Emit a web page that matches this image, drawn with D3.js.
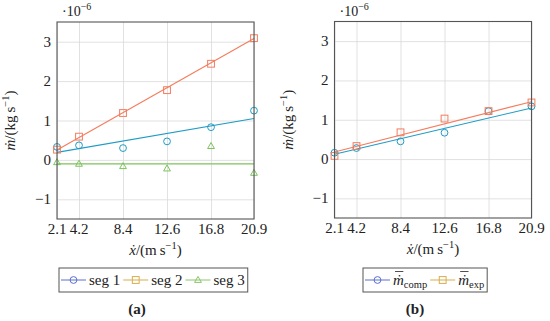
<!DOCTYPE html>
<html>

<head>
  <meta charset="UTF-8">
  <title>mass flow vs velocity</title>
  <script src="https://d3js.org/d3.v7.min.js"></script>
  <style>
    body {
      margin: 0;
      background: #fff;
    }
  </style>
</head>

<body>
  <svg></svg>

  <script>
    // velocities (m/s) and tick values
    const xTicks = [2.1, 4.2, 8.4, 12.6, 16.8, 20.9];
    const yTicks = [-1, 0, 1, 2, 3];

    // panel (a): measured mass flow per segment, in 1e-6 kg/s
    const seg1 = [0.33, 0.37, 0.30, 0.47, 0.83, 1.25];
    const seg2 = [0.26, 0.59, 1.19, 1.77, 2.44, 3.09];
    const seg3 = [-0.06, -0.10, -0.16, -0.22, 0.35, -0.33];
    // fitted lines, value at 2.1 and at 20.9
    const seg1Fit = [0.19, 1.05];
    const seg2Fit = [0.25, 3.08];
    const seg3Fit = [-0.1, -0.1];

    // panel (b): averaged
    const mComp = [0.16, 0.28, 0.45, 0.67, 1.22, 1.34];
    const mExp = [0.08, 0.33, 0.68, 1.03, 1.22, 1.44];
    const mCompFit = [0.12, 1.30];
    const mExpFit = [0.18, 1.46];

    let width = 550,
      height = 321;

    const fontFam = "Liberation Serif";

    let svg = d3.select("svg")
      .attr("width", width)
      .attr("height", height)
      .attr("font-family", fontFam);

    const blue = "#1e9cc6",
      orange = "#f47c5e",
      green = "#7cc35c";

    function drawMarker(g, shape, x, y, color) {
      if (shape == "circle") {
        g.append("circle").attr("cx", x).attr("cy", y).attr("r", 3.4)
          .attr("fill", "none").attr("stroke", color).attr("stroke-width", 1);
      } else if (shape == "square") {
        g.append("rect").attr("x", x - 3.4).attr("y", y - 3.4)
          .attr("width", 6.8).attr("height", 6.8)
          .attr("fill", "none").attr("stroke", color).attr("stroke-width", 1);
      } else {
        g.append("path")
          .attr("d", `M${x},${y - 3.6}L${x + 3.4},${y + 2.4}L${x - 3.4},${y + 2.4}Z`)
          .attr("fill", "none").attr("stroke", color).attr("stroke-width", 1);
      }
    }

    function txt(sel) {
      return sel.append("text").attr("font-family", fontFam).attr("fill", "#222");
    }

    function drawPanel(opts) {
      let x = d3.scaleLinear().domain([2.1, 20.9]).range([opts.left, opts.right]);
      let y = d3.scaleLinear().domain([-1.5, 3.5]).range([opts.bottom, opts.top]);
      let g = svg.append("g");

      // grid
      g.append("g")
        .attr("transform", `translate(0,${opts.bottom})`)
        .call(d3.axisBottom(x).tickValues(xTicks).tickSize(-(opts.bottom - opts.top)).tickFormat(""))
        .call(a => a.select(".domain").remove())
        .call(a => a.selectAll("line").attr("stroke", "#d9d9d9").attr("stroke-width", 0.8));
      g.append("g")
        .attr("transform", `translate(${opts.left},0)`)
        .call(d3.axisLeft(y).tickValues(yTicks).tickSize(-(opts.right - opts.left)).tickFormat(""))
        .call(a => a.select(".domain").remove())
        .call(a => a.selectAll("line").attr("stroke", "#d9d9d9").attr("stroke-width", 0.8));

      // tick labels
      xTicks.forEach(d => {
        txt(g).attr("x", x(d)).attr("y", opts.bottom + 15)
          .attr("text-anchor", "middle").attr("font-size", 15)
          .text(d.toFixed(1));
      });
      yTicks.forEach(d => {
        txt(g).attr("x", opts.left - 6).attr("y", y(d) + 5)
          .attr("text-anchor", "end").attr("font-size", 15)
          .text(d < 0 ? "\u2212" + Math.abs(d) : d);
      });

      // series
      opts.series.forEach(s => {
        g.append("line")
          .attr("x1", x(2.1)).attr("x2", x(20.9))
          .attr("y1", y(s.fit[0])).attr("y2", y(s.fit[1]))
          .attr("stroke", s.color).attr("stroke-width", 1.1);
        s.values.forEach((v, i) => drawMarker(g, s.shape, x(xTicks[i]), y(v), s.color));
      });

      // frame
      g.append("rect")
        .attr("x", opts.left).attr("y", opts.top)
        .attr("width", opts.right - opts.left).attr("height", opts.bottom - opts.top)
        .attr("fill", "none").attr("stroke", "#555").attr("stroke-width", 1.1);

      // exponent
      let ex = txt(g).attr("x", opts.left + 5).attr("y", 16).attr("font-size", 14);
      ex.append("tspan").text("\u00b710");
      ex.append("tspan").attr("dy", -6).attr("font-size", 10).text("\u22126");

      // y label
      let yl = txt(g)
        .attr("transform", `translate(${opts.left - 42},${(opts.top + opts.bottom) / 2}) rotate(-90)`)
        .attr("text-anchor", "middle").attr("font-size", 15);
      yl.append("tspan").attr("font-style", "italic").text("\u1e41");
      yl.append("tspan").text("/(kg\u2009s");
      yl.append("tspan").attr("dy", -6).attr("font-size", 10.5).text("\u22121");
      yl.append("tspan").attr("dy", 6).text(")");

      // x label
      let xl = txt(g)
        .attr("x", (opts.left + opts.right) / 2).attr("y", opts.bottom + 36)
        .attr("text-anchor", "middle").attr("font-size", 15);
      xl.append("tspan").attr("font-style", "italic").text("\u1e8b");
      xl.append("tspan").text("/(m\u2009s");
      xl.append("tspan").attr("dy", -6).attr("font-size", 10.5).text("\u22121");
      xl.append("tspan").attr("dy", 6).text(")");

      // legend
      let lg = g.append("g");
      let cx = opts.legX + 2;
      let ly = 280;
      opts.series.forEach(s => {
        lg.append("line").attr("x1", cx).attr("x2", cx + 25)
          .attr("y1", ly).attr("y2", ly)
          .attr("stroke", s.legColor).attr("stroke-width", 1);
        drawMarker(lg, s.shape, cx + 12.5, ly, s.legColor);
        cx += 28;
        let t = txt(lg).attr("x", cx).attr("y", ly + 5).attr("font-size", 15);
        if (s.sub) {
          t.append("tspan").attr("font-style", "italic").text("\u1e41");
          let r = t.node().getExtentOfChar(0);
          lg.append("line")
            .attr("x1", r.x + 2).attr("x2", r.x + r.width - 0.5)
            .attr("y1", ly - 8.5).attr("y2", ly - 8.5)
            .attr("stroke", "#222").attr("stroke-width", 0.8);
          t.append("tspan").attr("dy", 3).attr("font-size", 10.5).text(s.sub);
        } else {
          t.text(s.name);
        }
        cx += t.node().getComputedTextLength() + 3;
      });
      lg.insert("rect", ":first-child")
        .attr("x", opts.legX).attr("y", 268)
        .attr("width", cx - opts.legX).attr("height", 24)
        .attr("fill", "#fff").attr("stroke", "#555").attr("stroke-width", 1);

      // panel caption
      txt(g)
        .attr("x", opts.capX).attr("y", 314)
        .attr("text-anchor", "middle").attr("font-size", 15).attr("font-weight", "bold")
        .text(opts.caption);
    }

    drawPanel({
      left: 57, right: 254, top: 22, bottom: 219,
      legX: 59, capX: 137, caption: "(a)",
      series: [
        { name: "seg 1", values: seg1, fit: seg1Fit, color: blue, legColor: "#5b70d0", shape: "circle" },
        { name: "seg 2", values: seg2, fit: seg2Fit, color: orange, legColor: "#d9ad4e", shape: "square" },
        { name: "seg 3", values: seg3, fit: seg3Fit, color: green, legColor: "#8cc56c", shape: "triangle" }
      ]
    });

    drawPanel({
      left: 334.5, right: 531.5, top: 21.5, bottom: 218,
      legX: 363, capX: 415, caption: "(b)",
      series: [
        { name: "comp", sub: "comp", values: mComp, fit: mCompFit, color: blue, legColor: "#5b70d0", shape: "circle" },
        { name: "exp", sub: "exp", values: mExp, fit: mExpFit, color: orange, legColor: "#d9ad4e", shape: "square" }
      ]
    });
  </script>

</body>

</html>
